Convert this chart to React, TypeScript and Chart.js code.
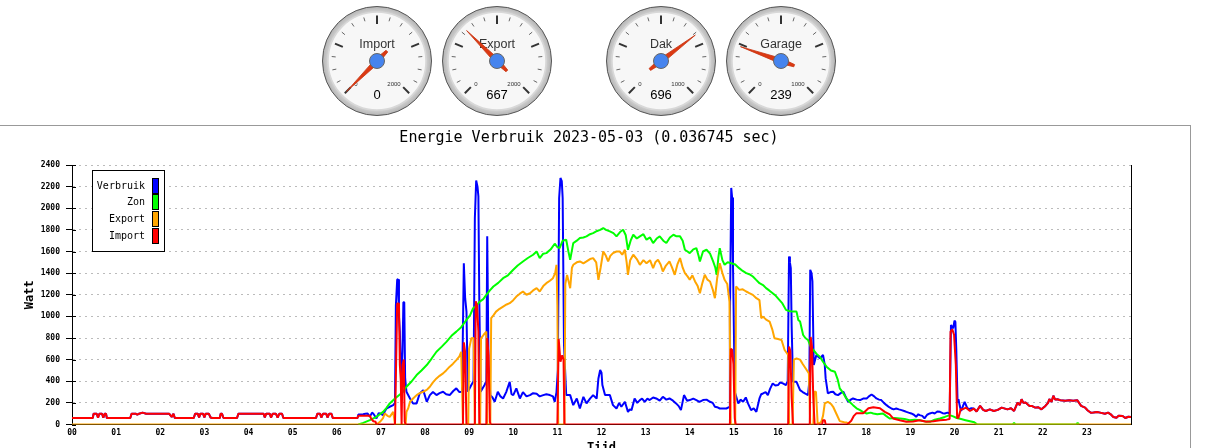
import React, { useEffect, useRef } from 'react';
import { Chart, registerables } from 'chart.js';

Chart.register(...registerables);

// ---------- gauge data ----------
const gaugeLabels = ['Import', 'Export', 'Dak', 'Garage'];
const gaugeValues = [0, 667, 696, 239];
const gaugeMax = [2000, 2000, 1000, 1000];

// ---------- main chart data ----------
const chartTitle = 'Energie Verbruik 2023-05-03 (0.036745 sec)';
const hourLabels = ['00', '01', '02', '03', '04', '05', '06', '07', '08', '09', '10', '11', '12', '13', '14', '15', '16', '17', '18', '19', '20', '21', '22', '23'];
const seriesNames = ['Verbruik', 'Zon', 'Export', 'Import'];

// [hour, watt]
const nightImport: [number, number][] = [
  [0, 60], [0.47, 60], [0.49, 100], [0.56, 100], [0.59, 62], [0.62, 100], [0.68, 100], [0.71, 62], [0.74, 100], [0.77, 100], [0.79, 60],
  [1.32, 60], [1.35, 100], [1.45, 100], [1.48, 90], [1.52, 100], [1.6, 110], [1.68, 100], [2.2, 100], [2.26, 70], [2.3, 100], [2.33, 60],
  [2.76, 60], [2.79, 100], [2.85, 100], [2.88, 65], [2.91, 100], [2.97, 100], [3.0, 65], [3.03, 100], [3.1, 100], [3.14, 65], [3.18, 60],
  [3.35, 60], [3.37, 100], [3.4, 100], [3.43, 62], [3.46, 60],
  [3.74, 60], [3.77, 100], [4.3, 100], [4.34, 100], [4.37, 65], [4.4, 100], [4.48, 100], [4.51, 65], [4.55, 100], [4.62, 100], [4.66, 65], [4.7, 100], [4.76, 100], [4.79, 60],
  [5.53, 60], [5.56, 100], [5.62, 100], [5.65, 65], [5.69, 100], [5.76, 100], [5.79, 65], [5.83, 100], [5.88, 100], [5.91, 60],
  [6.47, 60],
];

const dayImport: [number, number][] = [
  [6.49, 82], [6.75, 82], [6.78, 55], [6.83, 30], [6.88, 25], [6.9, 0],
  [7.32, 0], [7.34, 440], [7.37, 1120], [7.41, 1120], [7.43, 550], [7.45, 420], [7.47, 0], [7.49, 550], [7.52, 600], [7.54, 25], [7.56, 0],
  [8.86, 0], [8.88, 760], [8.91, 670], [8.94, 0],
  [9.13, 0], [9.15, 1140], [9.18, 1100], [9.21, 860], [9.23, 0],
  [9.39, 0], [9.41, 800], [9.44, 640], [9.47, 25], [9.49, 0],
  [11.0, 0], [11.03, 790], [11.07, 580], [11.11, 640], [11.14, 600], [11.16, 0],
  [14.91, 0], [14.93, 700], [14.96, 690], [14.99, 560], [15.02, 60], [15.04, 0],
  [16.23, 0], [16.25, 720], [16.28, 680], [16.31, 240], [16.34, 0],
  [16.72, 0], [16.74, 810], [16.77, 720], [16.8, 240], [16.83, 0],
  [17.0, 0], [17.02, 40], [17.06, 40], [17.08, 0],
  [17.57, 0], [17.66, 35], [17.72, 80], [17.78, 105], [17.93, 105], [18.05, 150], [18.16, 160], [18.31, 150], [18.42, 117], [18.53, 93], [18.61, 56], [18.76, 40], [18.91, 25], [19.06, 28], [19.21, 40], [19.36, 25], [19.52, 30], [19.67, 40], [19.82, 45], [19.89, 50],
  [19.91, 860], [19.95, 880], [19.99, 830], [20.03, 550], [20.06, 60],
  [20.09, 62], [20.14, 140], [20.18, 140], [20.26, 156], [20.35, 125], [20.44, 147],
];

const lateImport: [number, number][] = [
  [20.5, 120], [20.58, 172], [20.65, 135], [20.71, 125], [20.8, 140], [20.89, 125], [20.98, 135], [21.07, 156], [21.2, 140], [21.28, 150], [21.35, 125],
  [21.43, 203], [21.48, 180], [21.52, 234], [21.56, 200], [21.61, 203], [21.7, 172], [21.76, 170], [21.83, 156], [21.9, 160], [21.97, 140],
  [22.06, 172], [22.12, 200], [22.15, 234], [22.2, 210], [22.24, 266], [22.28, 230], [22.33, 234], [22.4, 225], [22.51, 219], [22.6, 225], [22.69, 219], [22.78, 225],
  [22.87, 172], [22.96, 156], [23.02, 130], [23.09, 109], [23.15, 110], [23.23, 116], [23.3, 110], [23.41, 100], [23.48, 110], [23.54, 94], [23.6, 70], [23.67, 62], [23.72, 80], [23.81, 78], [23.87, 60], [23.94, 72], [24, 70],
];

const dayVerbruik: [number, number][] = [
  [6.49, 93], [6.6, 95], [6.65, 100], [6.7, 102], [6.75, 71], [6.8, 110], [6.83, 100], [6.9, 56], [6.95, 105], [6.98, 102], [7.05, 87], [7.1, 130], [7.13, 148], [7.2, 164], [7.28, 179], [7.32, 200],
  [7.34, 1100], [7.37, 1340], [7.39, 1344], [7.41, 1000], [7.43, 860], [7.46, 395], [7.49, 673], [7.51, 1131], [7.53, 1131], [7.55, 426], [7.58, 303],
  [7.66, 241], [7.73, 195], [7.81, 195], [7.88, 287], [7.96, 318], [8.04, 210], [8.11, 272], [8.18, 300], [8.26, 272], [8.33, 290], [8.41, 303], [8.48, 280], [8.56, 272], [8.64, 310], [8.71, 334], [8.78, 300], [8.84, 303],
  [8.88, 1492], [8.91, 1168], [8.94, 1044], [8.97, 303], [9.05, 365], [9.1, 400], [9.13, 1910], [9.16, 2256], [9.19, 2200], [9.21, 2110], [9.23, 1168], [9.26, 303], [9.35, 365], [9.39, 400], [9.41, 1740], [9.44, 550], [9.48, 272],
  [9.53, 250], [9.58, 210], [9.65, 303], [9.71, 260], [9.77, 241], [9.84, 300], [9.92, 395], [9.96, 280], [10.0, 272], [10.07, 334], [10.15, 241], [10.22, 300], [10.3, 260], [10.38, 272], [10.45, 290], [10.53, 285], [10.6, 260], [10.68, 272], [10.75, 280], [10.83, 272], [10.9, 260], [10.94, 210], [10.98, 300],
  [11.01, 504], [11.04, 2095], [11.07, 2280], [11.1, 2250], [11.12, 2095], [11.15, 735], [11.2, 272],
  [11.29, 272], [11.36, 179], [11.44, 240], [11.51, 148], [11.59, 256], [11.66, 195], [11.74, 240], [11.81, 272], [11.89, 240], [11.93, 426], [11.97, 504], [12.0, 480], [12.02, 365], [12.08, 272], [12.14, 272], [12.19, 272],
  [12.26, 179], [12.34, 148], [12.4, 200], [12.45, 164], [12.53, 210], [12.6, 117], [12.64, 140], [12.68, 133], [12.75, 241], [12.81, 200], [12.87, 226], [12.92, 240], [12.98, 210], [13.04, 240], [13.09, 226], [13.17, 250],
  [13.24, 241], [13.32, 220], [13.39, 256], [13.47, 230], [13.54, 241], [13.62, 220], [13.69, 195], [13.75, 170], [13.8, 133], [13.87, 272], [13.94, 220], [14.0, 226], [14.08, 240], [14.15, 226], [14.22, 210], [14.3, 226],
  [14.38, 230], [14.46, 210], [14.52, 200], [14.57, 164], [14.62, 160], [14.68, 148], [14.76, 148], [14.83, 148], [14.89, 160],
  [14.91, 983], [14.94, 2188], [14.96, 2100], [14.98, 1477], [15.02, 303], [15.1, 195], [15.15, 230], [15.21, 210], [15.27, 250], [15.32, 195], [15.39, 133], [15.45, 150], [15.51, 117],
  [15.58, 241], [15.62, 280], [15.66, 287], [15.72, 300], [15.77, 272], [15.82, 330], [15.88, 380], [15.94, 360], [16.0, 365], [16.05, 390], [16.11, 380], [16.18, 365], [16.22, 400],
  [16.25, 1554], [16.27, 1500], [16.29, 1446], [16.31, 900], [16.34, 395], [16.42, 395], [16.5, 318], [16.56, 300], [16.61, 287], [16.68, 272], [16.71, 400],
  [16.73, 1431], [16.76, 1400], [16.78, 1323], [16.81, 550], [16.87, 643], [16.95, 612], [17.02, 643], [17.06, 550], [17.08, 426], [17.13, 287], [17.19, 300], [17.25, 303], [17.3, 280], [17.36, 272], [17.42, 290], [17.48, 303],
  [17.54, 250], [17.59, 210], [17.65, 230], [17.7, 241], [17.78, 230], [17.86, 226], [17.93, 240], [18.01, 241], [18.06, 260], [18.12, 278], [18.18, 260], [18.23, 241], [18.29, 230], [18.34, 226], [18.4, 200], [18.46, 179],
  [18.52, 160], [18.57, 148], [18.62, 140], [18.68, 148], [18.74, 140], [18.8, 133], [18.86, 125], [18.91, 117], [18.96, 110], [19.02, 102], [19.08, 90], [19.13, 71], [19.18, 95], [19.21, 87], [19.27, 80], [19.32, 56],
  [19.38, 90], [19.44, 102], [19.5, 110], [19.55, 102], [19.61, 120], [19.67, 117], [19.73, 105], [19.78, 102], [19.84, 110], [19.89, 102],
  [19.92, 921], [19.95, 900], [19.97, 890], [20.0, 960], [20.02, 950], [20.04, 700], [20.07, 200], [20.09, 234], [20.12, 170], [20.15, 125], [20.2, 180], [20.23, 209], [20.28, 160], [20.32, 140], [20.38, 150], [20.44, 147],
];

const zonData: [number, number][] = [
  [6.49, 0], [6.6, 15], [6.75, 40], [6.9, 71], [7.05, 117], [7.12, 150], [7.2, 195], [7.32, 241], [7.43, 278], [7.5, 300], [7.58, 349], [7.7, 400], [7.81, 457], [7.92, 500], [8.04, 550],
  [8.15, 610], [8.26, 673], [8.38, 720], [8.49, 766], [8.6, 820], [8.71, 859], [8.82, 900], [8.94, 967], [9.02, 1010], [9.09, 1075], [9.17, 1100], [9.24, 1137], [9.32, 1160], [9.39, 1199], [9.47, 1240], [9.55, 1276],
  [9.66, 1310], [9.77, 1353], [9.88, 1380], [10.0, 1431], [10.1, 1470], [10.22, 1508], [10.33, 1540], [10.45, 1570], [10.53, 1600], [10.6, 1539], [10.68, 1580], [10.75, 1585], [10.85, 1620], [10.94, 1672], [11.0, 1640],
  [11.05, 1631], [11.12, 1700], [11.2, 1709], [11.25, 1600], [11.29, 1523], [11.36, 1678], [11.44, 1700], [11.51, 1724], [11.59, 1730], [11.66, 1740], [11.74, 1760], [11.81, 1770], [11.9, 1790], [11.97, 1800], [12.04, 1817],
  [12.1, 1800], [12.19, 1786], [12.27, 1770], [12.34, 1740], [12.42, 1780], [12.49, 1801], [12.55, 1750], [12.6, 1616], [12.66, 1700], [12.72, 1755], [12.8, 1720], [12.87, 1740], [12.95, 1760], [13.02, 1709], [13.1, 1730],
  [13.17, 1678], [13.25, 1720], [13.32, 1740], [13.4, 1700], [13.47, 1678], [13.55, 1730], [13.63, 1755], [13.7, 1740], [13.78, 1740], [13.84, 1700], [13.89, 1616], [13.95, 1600], [14.0, 1585], [14.08, 1620], [14.15, 1631],
  [14.2, 1560], [14.23, 1508], [14.3, 1600], [14.38, 1616], [14.46, 1580], [14.53, 1508], [14.58, 1450], [14.61, 1384], [14.65, 1550], [14.68, 1631], [14.74, 1520], [14.79, 1477], [14.86, 1500], [14.94, 1492], [15.03, 1480],
  [15.12, 1446], [15.2, 1420], [15.28, 1400], [15.35, 1390], [15.43, 1369], [15.5, 1340], [15.58, 1307], [15.66, 1290], [15.73, 1261], [15.8, 1240], [15.88, 1214], [15.95, 1190], [16.03, 1153], [16.1, 1120], [16.18, 1060],
  [16.25, 1050], [16.33, 1044], [16.42, 1044], [16.46, 967], [16.5, 952], [16.57, 828], [16.62, 800], [16.68, 782], [16.74, 720], [16.8, 689], [16.88, 650], [16.95, 627], [17.02, 580], [17.1, 535], [17.2, 500], [17.29, 488],
  [17.35, 420], [17.4, 334], [17.48, 290], [17.55, 241], [17.62, 210], [17.7, 179], [17.78, 150], [17.86, 133], [17.93, 115], [18.01, 102], [18.1, 110], [18.16, 102], [18.25, 95], [18.38, 102], [18.45, 80], [18.53, 56],
  [18.65, 60], [18.76, 56], [18.87, 50], [18.98, 40], [19.1, 45], [19.21, 40], [19.32, 30], [19.44, 25], [19.55, 45], [19.67, 56], [19.78, 70], [19.89, 87], [19.97, 75], [20.05, 60], [20.15, 50], [20.25, 40], [20.35, 30],
  [20.45, 20], [20.52, 0], [21.32, 0], [21.35, 15], [21.38, 0], [22.76, 0], [22.79, 15], [22.82, 0],
];

const exportData: [number, number][] = [
  [0, 0], [6.9, 0], [6.98, 25], [7.05, 60], [7.09, 102], [7.15, 80], [7.2, 71], [7.28, 117], [7.32, 0], [7.56, 0], [7.58, 117], [7.62, 150], [7.66, 210], [7.73, 240], [7.81, 272], [7.88, 290], [7.96, 303], [8.04, 320],
  [8.11, 349], [8.18, 390], [8.26, 426], [8.33, 450], [8.41, 473], [8.48, 500], [8.56, 535], [8.63, 560], [8.71, 596], [8.78, 630], [8.82, 673], [8.86, 0], [8.98, 0], [9.0, 700], [9.05, 797], [9.1, 800], [9.13, 0],
  [9.25, 0], [9.27, 797], [9.33, 830], [9.39, 859], [9.41, 0], [9.48, 0], [9.5, 983], [9.55, 1010], [9.61, 1044], [9.69, 1070], [9.77, 1091], [9.85, 1110], [9.92, 1122], [10.0, 1150], [10.07, 1183], [10.15, 1210],
  [10.22, 1230], [10.3, 1200], [10.38, 1214], [10.45, 1240], [10.53, 1261], [10.6, 1230], [10.68, 1280], [10.75, 1307], [10.83, 1330], [10.9, 1353], [10.95, 1400], [10.98, 1477], [11.0, 1100], [11.02, 0], [11.16, 0],
  [11.18, 1300], [11.22, 1384], [11.29, 1261], [11.33, 1450], [11.36, 1477], [11.44, 1500], [11.51, 1508], [11.59, 1490], [11.66, 1508], [11.74, 1530], [11.81, 1539], [11.88, 1500], [11.93, 1338], [11.98, 1450], [12.04, 1601],
  [12.1, 1560], [12.15, 1508], [12.2, 1560], [12.26, 1585], [12.34, 1600], [12.41, 1601], [12.47, 1570], [12.53, 1616], [12.57, 1500], [12.6, 1384], [12.65, 1520], [12.72, 1570], [12.8, 1530], [12.87, 1477], [12.95, 1520],
  [13.02, 1492], [13.1, 1520], [13.17, 1446], [13.22, 1500], [13.28, 1523], [13.34, 1480], [13.39, 1415], [13.46, 1470], [13.54, 1508], [13.6, 1450], [13.66, 1384], [13.72, 1480], [13.78, 1539], [13.84, 1450], [13.89, 1400],
  [13.95, 1370], [14.0, 1338], [14.06, 1380], [14.12, 1323], [14.18, 1280], [14.23, 1214], [14.28, 1300], [14.34, 1384], [14.4, 1340], [14.46, 1323], [14.52, 1250], [14.57, 1168], [14.62, 1350], [14.68, 1492], [14.74, 1400],
  [14.79, 1338], [14.85, 1300], [14.9, 1137], [14.93, 0], [15.03, 0], [15.05, 1276], [15.12, 1245], [15.2, 1250], [15.28, 1230], [15.35, 1215], [15.43, 1199], [15.51, 1168], [15.58, 1150], [15.62, 983], [15.66, 998],
  [15.73, 970], [15.81, 952], [15.87, 880], [15.92, 797], [16.0, 790], [16.08, 782], [16.15, 689], [16.23, 643], [16.25, 0], [16.33, 0], [16.36, 600], [16.42, 610], [16.5, 600], [16.56, 560], [16.65, 504], [16.7, 473],
  [16.73, 0], [16.8, 0], [16.82, 303], [16.86, 303], [16.9, 0], [16.98, 25], [17.02, 80], [17.06, 195], [17.13, 210], [17.2, 190], [17.25, 164], [17.32, 102], [17.4, 31], [17.5, 20], [17.55, 19], [17.63, 0], [24, 0],
];

const verbruikData: [number, number][] = [...nightImport, ...dayVerbruik, ...lateImport];
const importData: [number, number][] = [...nightImport, ...dayImport, ...lateImport];

const seriesData = [verbruikData, zonData, exportData, importData];
const seriesColors = ['#0000ff', '#00ff00', '#ffa500', '#ff0000'];

const MONO = '"DejaVu Sans Mono", "Liberation Mono", monospace';
const SANS = '"Liberation Sans", Arial, sans-serif';

function makeGaugePlugin(label: string, max: number, value: number) {
  return {
    id: 'gaugeFace',
    beforeDatasetsDraw(chart: any) {
      const ctx = chart.ctx as CanvasRenderingContext2D;
      const cx = chart.width / 2;
      const cy = chart.height / 2;
      ctx.save();
      const g = ctx.createRadialGradient(cx, cy, 45, cx, cy, 55);
      g.addColorStop(0, '#e8e8e8');
      g.addColorStop(1, '#b0b0b0');
      ctx.beginPath();
      ctx.arc(cx, cy, 54.5, 0, Math.PI * 2);
      ctx.fillStyle = g;
      ctx.fill();
      ctx.lineWidth = 1;
      ctx.strokeStyle = '#555';
      ctx.stroke();
      ctx.beginPath();
      ctx.arc(cx, cy, 49, 0, Math.PI * 2);
      ctx.fillStyle = '#f7f7f7';
      ctx.fill();
      ctx.lineWidth = 1.5;
      ctx.strokeStyle = '#d8d8d8';
      ctx.stroke();
      const a0 = 0.75 * Math.PI;
      const span = 1.5 * Math.PI;
      for (let k = 0; k <= 16; k++) {
        const a = a0 + (span * k) / 16;
        const major = k % 4 === 0;
        const r1 = major ? 37 : 41.5;
        const r2 = 45.5;
        ctx.beginPath();
        ctx.moveTo(cx + r1 * Math.cos(a), cy + r1 * Math.sin(a));
        ctx.lineTo(cx + r2 * Math.cos(a), cy + r2 * Math.sin(a));
        ctx.lineWidth = major ? 2 : 1;
        ctx.strokeStyle = major ? '#333' : '#666';
        ctx.stroke();
      }
      ctx.textAlign = 'center';
      ctx.textBaseline = 'middle';
      ctx.fillStyle = '#333';
      ctx.font = `6px ${SANS}`;
      ctx.fillText('0', cx - 21, cy + 23);
      ctx.fillText(String(max), cx + 17, cy + 23);
      ctx.font = `12.5px ${SANS}`;
      ctx.fillStyle = '#333';
      ctx.fillText(label, cx, cy - 16);
      ctx.font = `13px ${SANS}`;
      ctx.fillStyle = '#000';
      ctx.fillText(String(value), cx, cy + 34);
      ctx.restore();
    },
    afterDatasetsDraw(chart: any) {
      const ctx = chart.ctx as CanvasRenderingContext2D;
      const cx = chart.width / 2;
      const cy = chart.height / 2;
      const arc = chart.getDatasetMeta(0).data[0] as any;
      const a = arc.endAngle as number;
      const ux = Math.cos(a), uy = Math.sin(a);
      const px = -uy, py = ux;
      ctx.save();
      ctx.beginPath();
      ctx.moveTo(cx + ux * 43, cy + uy * 43);
      ctx.lineTo(cx + px * 2.6, cy + py * 2.6);
      ctx.lineTo(cx - ux * 14 + px * 1.2, cy - uy * 14 + py * 1.2);
      ctx.lineTo(cx - ux * 14 - px * 1.2, cy - uy * 14 - py * 1.2);
      ctx.lineTo(cx - px * 2.6, cy - py * 2.6);
      ctx.closePath();
      ctx.fillStyle = '#dc3912';
      ctx.fill();
      ctx.lineWidth = 0.8;
      ctx.strokeStyle = '#c63310';
      ctx.stroke();
      ctx.beginPath();
      ctx.arc(cx, cy, 7.5, 0, Math.PI * 2);
      ctx.fillStyle = '#4684ee';
      ctx.fill();
      ctx.lineWidth = 1;
      ctx.strokeStyle = '#666';
      ctx.stroke();
      ctx.restore();
    },
  };
}

const legendPlugin = {
  id: 'ticksAndLegend',
  afterDatasetsDraw(chart: any) {
    const ctx = chart.ctx as CanvasRenderingContext2D;
    const ca = chart.chartArea;
    const ys = chart.scales.y;
    ctx.save();
    ctx.strokeStyle = '#000';
    ctx.lineWidth = 1;
    ctx.beginPath();
    ys.ticks.forEach((t: any) => {
      const y = Math.round(ys.getPixelForValue(t.value)) + 0.5;
      ctx.moveTo(ca.left, y);
      ctx.lineTo(ca.left + 4, y);
    });
    ctx.stroke();

    // legend box
    const x0 = Math.round(ca.left) + 20;
    const y0 = Math.round(ca.top) + 5;
    ctx.fillStyle = '#fff';
    ctx.fillRect(x0, y0, 72, 81);
    ctx.strokeStyle = '#000';
    ctx.strokeRect(x0 + 0.5, y0 + 0.5, 72, 81);
    ctx.font = `10px ${MONO}`;
    ctx.textAlign = 'right';
    ctx.textBaseline = 'middle';
    chart.data.datasets.forEach((ds: any, i: number) => {
      const cy = y0 + 15 + i * 16.8;
      ctx.fillStyle = '#000';
      ctx.fillText(ds.label, x0 + 53, cy + 1);
      ctx.fillStyle = ds.borderColor;
      ctx.fillRect(x0 + 60, Math.round(cy - 7.5), 6, 15);
      ctx.strokeRect(x0 + 60.5, Math.round(cy - 7.5) + 0.5, 6, 15);
    });
    ctx.restore();
  },
};

const gaugeCenters = [377, 497, 661, 781];

export default function App() {
  const mainRef = useRef<HTMLCanvasElement | null>(null);
  const gaugeRefs = useRef<(HTMLCanvasElement | null)[]>([]);

  useEffect(() => {
    const charts: Chart[] = [];
    gaugeLabels.forEach((label, i) => {
      const cv = gaugeRefs.current[i];
      if (!cv) return;
      const v = gaugeValues[i];
      const m = gaugeMax[i];
      charts.push(
        new Chart(cv, {
          type: 'doughnut',
          data: {
            labels: ['waarde', 'rest'],
            datasets: [
              {
                data: [v, m - v],
                backgroundColor: ['rgba(0,0,0,0)', 'rgba(0,0,0,0)'],
                borderWidth: 0,
                rotation: -135,
                circumference: 270,
              } as any,
            ],
          },
          options: {
            animation: false,
            responsive: false,
            events: [],
            rotation: -135,
            circumference: 270,
            plugins: { legend: { display: false }, tooltip: { enabled: false } },
          } as any,
          plugins: [makeGaugePlugin(label, m, v)],
        })
      );
    });

    if (mainRef.current) {
      charts.push(
        new Chart(mainRef.current, {
          type: 'line',
          data: {
            datasets: seriesNames.map((name, i) => ({
              label: name,
              data: seriesData[i].map(([x, y]) => ({ x, y })),
              borderColor: seriesColors[i],
              backgroundColor: seriesColors[i],
              borderWidth: 2,
              pointRadius: 0,
              tension: 0,
              fill: false,
              borderJoinStyle: 'bevel',
              order: 4 - i,
            })) as any,
          },
          options: {
            animation: false,
            responsive: false,
            events: [],
            layout: { padding: 0 },
            plugins: {
              legend: { display: false },
              tooltip: { enabled: false },
              title: {
                display: true,
                text: chartTitle,
                color: '#000',
                font: { family: MONO, size: 15, weight: 'normal' },
                padding: { top: 3, bottom: 18 },
              },
            },
            scales: {
              x: {
                type: 'linear',
                min: 0,
                max: 24,
                grid: { display: false, drawTicks: false, tickLength: 0 },
                border: { display: true, color: '#000', width: 1 },
                ticks: {
                  stepSize: 1,
                  autoSkip: false,
                  maxRotation: 0,
                  padding: 4,
                  color: '#000',
                  font: { family: MONO, size: 8, weight: 'bold' },
                  callback: (v: any) => hourLabels[v] ?? '',
                },
                title: {
                  display: true,
                  text: 'Tijd',
                  color: '#000',
                  font: { family: MONO, size: 12, weight: 'bold' },
                  padding: { top: 0, bottom: 11 },
                },
                afterFit: (s: any) => {
                  s.height = 41.5;
                },
              },
              y: {
                min: 0,
                max: 2400,
                grid: { color: '#bbbbbb', lineWidth: 1, tickColor: '#000', tickLength: 6, drawTicks: true },
                border: { display: true, color: '#000', width: 1, dash: [2, 4] },
                ticks: {
                  stepSize: 200,
                  padding: 6,
                  color: '#000',
                  font: { family: MONO, size: 8, weight: 'bold' },
                  callback: (v: any) => String(v),
                },
                title: {
                  display: true,
                  text: 'Watt',
                  color: '#000',
                  font: { family: MONO, size: 12, weight: 'bold' },
                  padding: { top: 23, bottom: 0 },
                },
                afterFit: (s: any) => {
                  s.width = 72;
                },
              },
              yRight: {
                position: 'right',
                min: 0,
                max: 2400,
                grid: { display: false, drawOnChartArea: false, drawTicks: false },
                border: { display: true, color: '#000', width: 1 },
                ticks: { display: false },
                afterFit: (s: any) => {
                  s.width = 47;
                },
              },
            },
          } as any,
          plugins: [legendPlugin],
        })
      );
    }
    return () => {
      charts.forEach((c) => c.destroy());
    };
  }, []);

  return (
    <div style={{ position: 'absolute', left: 0, top: 0, width: 1231, height: 448, overflow: 'hidden', background: '#fff' }}>
      {gaugeLabels.map((l, i) => (
        <canvas
          key={l}
          ref={(el) => {
            gaugeRefs.current[i] = el;
          }}
          width={120}
          height={120}
          style={{ position: 'absolute', left: gaugeCenters[i] - 60, top: 1, width: 120, height: 120 }}
        />
      ))}
      <div
        style={{ position: 'absolute', left: -1, top: 125, width: 1192, height: 400, border: '1px solid #999', boxSizing: 'border-box' }}
      />
      <canvas ref={mainRef} width={1178} height={340} style={{ position: 'absolute', left: 0, top: 126, width: 1178, height: 340 }} />
    </div>
  );
}
